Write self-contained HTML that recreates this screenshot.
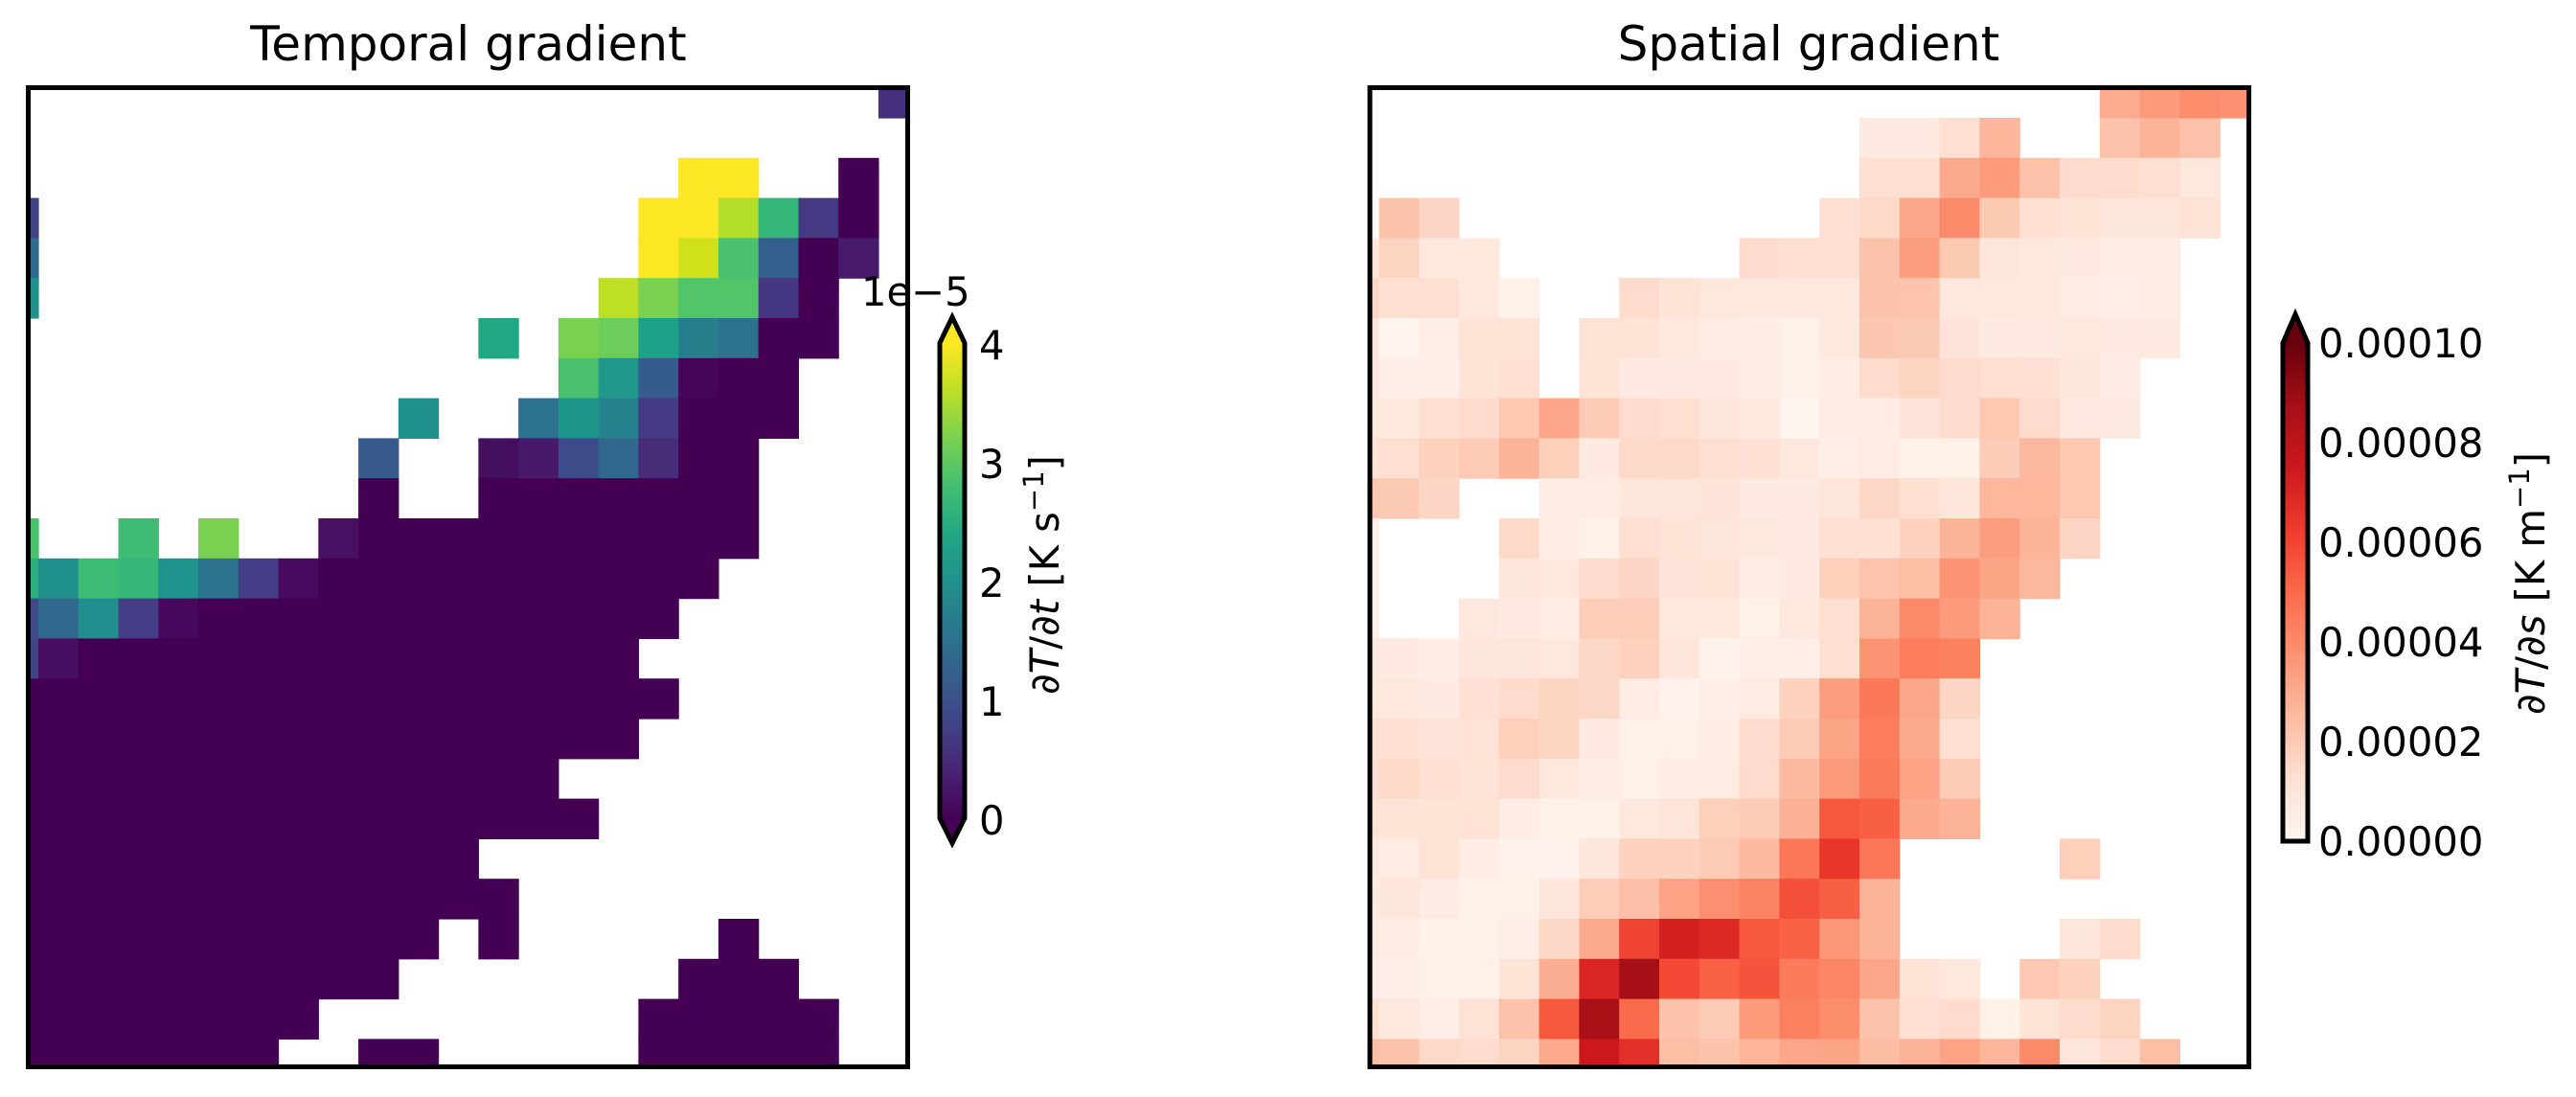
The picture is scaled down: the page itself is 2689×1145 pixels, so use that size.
<!DOCTYPE html>
<html><head><meta charset="utf-8">
<style>
html,body{margin:0;padding:0;background:#fff;}
svg{display:block;}
text{font-family:"DejaVu Sans","Liberation Sans",sans-serif;fill:#000;}
</style></head>
<body>
<svg id="s" xmlns="http://www.w3.org/2000/svg" width="2689" height="1145" viewBox="0 0 2689 1145">
<defs>
<clipPath id="cl"><rect x="29.5" y="91.5" width="918" height="1022"/></clipPath>
<clipPath id="cr"><rect x="1430" y="91.5" width="917.5" height="1022"/></clipPath>
<linearGradient id="gv" x1="0" y1="1" x2="0" y2="0">
<stop offset="0" stop-color="#440154"/><stop offset="0.1" stop-color="#482475"/><stop offset="0.2" stop-color="#414487"/><stop offset="0.3" stop-color="#355f8d"/><stop offset="0.4" stop-color="#2a788e"/><stop offset="0.5" stop-color="#21918c"/><stop offset="0.6" stop-color="#22a884"/><stop offset="0.7" stop-color="#44bf70"/><stop offset="0.8" stop-color="#7ad151"/><stop offset="0.9" stop-color="#bddf26"/><stop offset="1" stop-color="#fde725"/>
</linearGradient>
<linearGradient id="gr" x1="0" y1="1" x2="0" y2="0">
<stop offset="0" stop-color="#fff5f0"/><stop offset="0.125" stop-color="#fee0d2"/><stop offset="0.25" stop-color="#fcbba1"/><stop offset="0.375" stop-color="#fc9272"/><stop offset="0.5" stop-color="#fb6a4a"/><stop offset="0.625" stop-color="#ef3b2c"/><stop offset="0.75" stop-color="#cb181d"/><stop offset="0.875" stop-color="#a50f15"/><stop offset="1" stop-color="#67000d"/>
</linearGradient>
</defs>
<g id="L" clip-path="url(#cl)"></g>
<g id="R" clip-path="url(#cr)"></g>
<rect x="29.5" y="91.5" width="918" height="1022" fill="none" stroke="#000" stroke-width="5"/>
<rect x="1430" y="91.5" width="917.5" height="1022" fill="none" stroke="#000" stroke-width="5"/>
<text x="489" y="63" font-size="50" text-anchor="middle">Temporal gradient</text>
<text x="1888" y="63" font-size="50" text-anchor="middle">Spatial gradient</text>

<!-- left colorbar -->
<rect x="981" y="358" width="26" height="496" fill="url(#gv)"/>
<polygon points="981,358 994,331 1007,358" fill="#fde725"/>
<polygon points="981,854 994,880 1007,854" fill="#440154"/>
<polygon points="981,358 994,331 1007,358 1007,854 994,880 981,854" fill="none" stroke="#000" stroke-width="5" stroke-linejoin="miter"/>
<text x="1022" y="375" font-size="41.7">4</text>
<text x="1022" y="499" font-size="41.7">3</text>
<text x="1022" y="623" font-size="41.7">2</text>
<text x="1022" y="747" font-size="41.7">1</text>
<text x="1022" y="871" font-size="41.7">0</text>
<text x="899" y="319" font-size="41.7">1e−5</text>
<text transform="translate(1105,600) rotate(-90)" font-size="41.7" text-anchor="middle">∂<tspan font-style="italic">T</tspan>/∂<tspan font-style="italic">t</tspan> [K s<tspan font-size="29" dy="-16">−1</tspan><tspan dy="16">]</tspan></text>

<!-- right colorbar -->
<rect x="2383" y="358" width="26" height="520" fill="url(#gr)"/>
<polygon points="2383,358 2396,328 2409,358" fill="#67000d"/>
<polygon points="2383,358 2396,328 2409,358 2409,878 2383,878" fill="none" stroke="#000" stroke-width="5" stroke-linejoin="miter"/>
<text x="2420" y="373" font-size="41.7">0.00010</text>
<text x="2420" y="477" font-size="41.7">0.00008</text>
<text x="2420" y="581" font-size="41.7">0.00006</text>
<text x="2420" y="685" font-size="41.7">0.00004</text>
<text x="2420" y="789" font-size="41.7">0.00002</text>
<text x="2420" y="893" font-size="41.7">0.00000</text>
<text transform="translate(2656,609) rotate(-90)" font-size="41.7" text-anchor="middle">∂<tspan font-style="italic">T</tspan>/∂<tspan font-style="italic">s</tspan> [K m<tspan font-size="29" dy="-16">−1</tspan><tspan dy="16">]</tspan></text>
</svg>
<script>
var NS="http://www.w3.org/2000/svg";
var L={
"-1":"21=46307e",
"1":"16,17=Y 20=P",
"2":"-1=414487 15,16=Y 17=b5de2b 18=35b779 19=443983 20=P",
"3":"-1=31688e 15=Y 16=d0e11c 17=4ac16d 18=355f8d 19=P 20=481a6c",
"4":"-1=21918c 14=bddf26 15=7ad151 16,17=52c569 18=453781 19=P",
"5":"11=22a884 13=7ad151 14=6ccd5a 15=1fa187 16=277f8e 17=2c718e 18,19=P",
"6":"13=4ac16d 14=1f988b 15=365c8d 16=450559 17,18=P",
"7":"9=21918c 12=2c728e 13=1f968b 14=26828e 15=443a83 16,18=P",
"8":"8=375b8d 11=440f5e 12=48186a 13=3e4a89 14=31688e 15=472c7a 16,17=P",
"9":"8=P 11,17=P",
"10":"-1=4ac16d 2=3fbc73 4=7ad151 7=471063 8,17=P",
"11":"-1=2ab07f 0=21918c 1=3dbc74 2=35b779 3=1f948c 4=2c728e 5=433e85 6=460b5e 7,16=P",
"12":"-1=3e4a89 0=31688e 1=218f8d 2=433e85 3=46085c 4,15=P",
"13":"-1=414487 0=470d60 1,14=P",
"14":"-1,15=P","15":"-1,14=P","16":"-1,12=P","17":"-1,13=P","18":"-1,10=P","19":"-1,11=P",
"20":"-1,9=P 11=P 17=P",
"21":"-1,8=P 16,18=P",
"22":"-1,6=P 15,19=P",
"23":"-1,5=P 8,9=P 15,19=P"
};
var R={
"-1":"18=fcab8f 19=fc9b7c 20=fc8d6d 21=fc9272",
"0":"12=feeae0 13=feeae1 14=fee0d2 15=fcb69b 18=fcc2aa 19=fcb499 20=fcc1a8",
"1":"12=fee0d2 13=fee0d2 14=fcaa8d 15=fc9b7c 16=fcc2a9 17=fedbcc 18=fedccd 19=fee0d2 20=fee7dc",
"2":"0=fcc3ab 1=fdd5c4 11=fee0d3 12=fdd9c8 13=fca689 14=fc8a6a 15=fcc9b1 16=fee0d2 17=fee2d5 18=fee6da 19=fee6da 20=fee2d6",
"3":"-1=fee7dc 0=fdd4c2 1=fee8de 2=fee9df 9=fedbcc 10=fedfd0 11=fee0d2 12=fcc3ab 13=fc9e80 14=fcc9b1 15=fee5d9 16=fee7dc 17=feeae1 18=feece4 19=feede6",
"4":"-1=fdd7c6 0=fee0d2 1=fee0d3 2=fee8dd 3=fff0e8 6=fedbcc 7=fee3d6 8=fee8dd 9=fee7dc 10=fee8dd 11=fee8dd 12=fcc3ab 13=fcc4ad 14=fee7dc 15=fee8dd 16=fee9df 17=ffede5 18=ffeee7 19=ffede5",
"5":"-1=fee8dd 0=fff4ee 1=ffede6 2=fee3d6 3=fee3d6 5=fee2d5 6=fee2d5 7=fee8dd 8=feebe2 9=feede5 10=fff0e9 11=fee9df 12=fcc7b0 13=fccab3 14=fee4d8 15=feeae1 16=feeae1 17=fee8de 18=feeae1 19=feeae1",
"6":"-1=fee8de 0=ffeee6 1=ffefe8 2=fee3d7 3=fee1d4 5=fee3d6 6=feeae1 7=feeae0 8=feeae1 9=feece3 10=fff1ea 11=ffece3 12=fedccd 13=fdd4c2 14=fedccd 15=fedfd1 16=fee1d4 17=fee6da 18=ffebe2",
"7":"-1=fee7dc 0=fee7dc 1=fee0d2 2=fedbcc 3=fcc8b0 4=fca588 5=fdcbb5 6=fedccd 7=fedfd0 8=fee5d9 9=fee7dc 10=fff5f0 11=ffede5 12=feebe2 13=fee4d8 14=fedccd 15=fcc8b0 16=fedbcc 17=feeae1 18=feeae1",
"8":"-1=fee3d6 0=fee0d2 1=fdd2bf 2=fdcbb5 3=fcb499 4=fdd0bc 5=feeae1 6=fdd9c8 7=fdd9c8 8=fee0d2 9=fee1d4 10=fee8dd 11=ffeee6 12=feece4 13=fff0e8 14=fff0e8 15=fdccb8 16=fcb89e 17=fcc8b0",
"9":"-1=fcc8b0 0=fcc9b3 1=fdd5c4 4=ffece4 5=feebe2 6=fee6da 7=fee5d9 8=fee4d8 9=ffeae3 10=feeae1 11=fee5d9 12=fdd7c5 13=fedfd0 14=fee5d9 15=fcb79c 16=fcb79c 17=fcc8b0",
"10":"-1=fff0e8 3=fdd9c8 4=ffede5 5=fff0e8 6=fee0d2 7=fee3d6 8=fee5d9 9=fee8de 10=feeae0 11=fee0d2 12=fee1d3 13=fdd2bf 14=fcb398 15=fb9e7f 16=fcb398 17=fdd5c4",
"11":"-1=fff0e8 3=fee6da 4=fee7dc 5=fedccd 6=fdd5c4 7=fee4d8 8=fee3d6 9=ffede5 10=feeae1 11=fdd0bc 12=fcc4ad 13=fcbea5 14=fc9576 15=fca486 16=fcb89e",
"12":"-1=fff0e8 2=fee8dd 3=feeae1 4=feebe2 5=fdcdb9 6=fdcdb9 7=fee8dd 8=fee9df 9=fff1ea 10=fee8de 11=fedfd0 12=fcb499 13=fc8a6a 14=fc9b7c 15=fcb398",
"13":"-1=fee9df 0=feeae0 1=ffede5 2=fee6da 3=fee5d9 4=fee7dc 5=fdd7c6 6=fdd1be 7=fee5d9 8=fff2ed 9=ffede6 10=ffefe8 11=fedfd0 12=fc9474 13=fb7d5d 14=fb8161",
"14":"-1=fee7dc 0=fee7dc 1=feeae1 2=fee1d4 3=fedbcc 4=fdd4c2 5=fdd7c6 6=feebe2 7=fff2ed 8=ffeee7 9=feebe2 10=fdd2bf 11=fc9d7f 12=fb7858 13=fca689 14=fdd5c4",
"15":"-1=fee1d4 0=fee1d3 1=fee4d8 2=fee2d5 3=fdd0bc 4=fdd4c2 5=feeae1 6=fff0e9 7=fff0e8 8=ffede5 9=fedccd 10=fdcbb5 11=fca486 12=fb7d5d 13=fcaa8d 14=fee0d2",
"16":"-1=fee0d2 0=fdd9c8 1=fee0d2 2=fee3d6 3=fedbcc 4=fee7dc 5=ffece3 6=fff0e9 7=ffede5 8=feebe2 9=fedbcc 10=fcbaa0 11=fc9b7c 12=fb7a5a 13=fca285 14=fdcab5",
"17":"-1=fee3d6 0=fee3d6 1=fee3d7 2=fee2d5 3=ffede5 4=fff1ea 5=fff0e8 6=fee8dd 7=fee5d9 8=fdd0bc 9=fdcab5 10=fcb095 11=f6583e 12=f85f43 13=fcaa8d 14=fcb398",
"18":"-1=fee9df 0=feebe2 1=fee3d6 2=ffede5 3=fff2ec 4=fff2ec 5=fee6da 6=fdd2bf 7=fdd2bf 8=fdcab5 9=fcbba1 10=fb7757 11=ea362a 12=fb7757 17=fdd0bc",
"19":"-1=feeae0 0=fee6da 1=ffebe2 2=fff0e9 3=fff0e9 4=fee6da 5=fdcdb9 6=fcbfa7 7=fca285 8=fc8f6f 9=fb8464 10=f44f39 11=f85f43 12=fcb398",
"20":"-1=ffede5 0=ffede5 1=fff2eb 2=fff2eb 3=ffeee7 4=fdd7c6 5=fcaa8d 6=f14331 7=d42020 8=dc2924 9=f6583e 10=f96245 11=fc9879 12=fcb398 17=fee6da 18=fedccd",
"21":"-1=ffeee7 0=ffeee7 1=fff1ea 2=fff1ea 3=fee3d6 4=fcae92 5=d92523 6=a50f15 7=f34935 8=f96044 9=f5533b 10=fb7c5c 11=fb8767 12=fca689 13=fee3d6 14=fee7dc 16=fdc9b3 17=fdd2bf",
"22":"-1=fee0d2 0=fee8dd 1=ffede6 2=fee2d5 3=fcc2aa 4=f6583e 5=a91016 6=f96a4d 7=fcc2aa 8=fdcab5 9=fc9b7c 10=fb8060 11=fc8e6e 12=fcc3ab 13=fee1d4 14=fedbcc 15=fff0e8 16=fee3d7 17=fedccd 18=fdd4c2",
"23":"-1=fcbfa6 0=fcc2aa 1=fdd9c8 2=fedccd 3=fdd4c2 4=fca98c 5=cb181d 6=e32f27 7=fcbfa6 8=fcc3ab 9=fcb599 10=fca588 11=fca486 12=fcbda4 13=fcb296 14=fca285 15=fcb69b 16=fb8a6a 17=fee5d9 18=fedccd 19=fcbfa6"
};
function draw(id,data,x0,dx,y0,dy){
  var g=document.getElementById(id);
  for(var r in data){
    var rr=parseInt(r,10);
    data[r].split(" ").forEach(function(t){
      var p=t.split("="),col=p[1],rg=p[0].split(",");
      var a=parseInt(rg[0],10),b=rg.length>1?parseInt(rg[1],10):a;
      if(col==="P")col="440154";else if(col==="Y")col="fde725";
      for(var c=a;c<=b;c++){
        var e=document.createElementNS(NS,"rect");
        e.setAttribute("x",(x0+c*dx).toFixed(2));
        e.setAttribute("y",(y0+rr*dy).toFixed(2));
        e.setAttribute("width",(dx+0.6).toFixed(2));
        e.setAttribute("height",(dy+0.6).toFixed(2));
        e.setAttribute("fill","#"+col);
        g.appendChild(e);
      }
    });
  }
}
draw("L",L,40,41.76,123,41.8);
draw("R",R,1439.4,41.8,123,41.8);
</script>
</body></html>
